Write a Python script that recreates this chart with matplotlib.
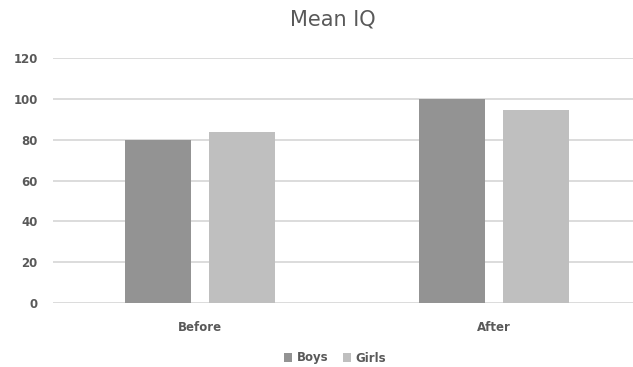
import matplotlib
matplotlib.use('Agg')
from matplotlib import pyplot as plt
import numpy as np

categories = ['Before', 'After']
series = ['Boys', 'Girls']
boys = [80, 100]
girls = [84, 94.5]
colors = ['#939393', '#bfbfbf']
text_col = '#595959'
grid_col = '#d9d9d9'

W, H = 633, 367
fig = plt.figure(figsize=(W / 100, H / 100), dpi=100)
ax = fig.add_axes([53 / W, 64 / H, 588 / W, 245 / H])

x = np.arange(len(categories))
off = 0.143
bw = 0.224
ax.bar(x - off, boys, bw, color=colors[0], label=series[0], zorder=3)
ax.bar(x + off, girls, bw, color=colors[1], label=series[1], zorder=3)

ax.set_xlim(-0.5, 1.5)
ax.set_ylim(0, 120)
ax.set_yticks(range(0, 121, 20))
ax.set_xticks(x)
ax.set_xticklabels(categories)
ax.yaxis.grid(True, color=grid_col, linewidth=1.3, zorder=0)
for s in ax.spines.values():
    s.set_visible(False)
ax.tick_params(axis='both', length=0, colors=text_col, labelsize=8.5)
ax.tick_params(axis='y', pad=11)
ax.tick_params(axis='x', pad=13)
for lab in ax.get_xticklabels() + ax.get_yticklabels():
    lab.set_fontweight('bold')

fig.text(333 / W, 1 - 20 / H, 'Mean IQ', ha='center', va='center',
         fontsize=15, color=text_col)

leg = fig.legend(loc='center', bbox_to_anchor=(335 / W, 1 - 358 / H), ncol=2,
                 frameon=False, fontsize=8.5, handlelength=0.7, handleheight=0.7,
                 handletextpad=0.4, columnspacing=1.2)
for t in leg.get_texts():
    t.set_color(text_col)
    t.set_fontweight('bold')

fig.savefig('out.png', dpi=100)
